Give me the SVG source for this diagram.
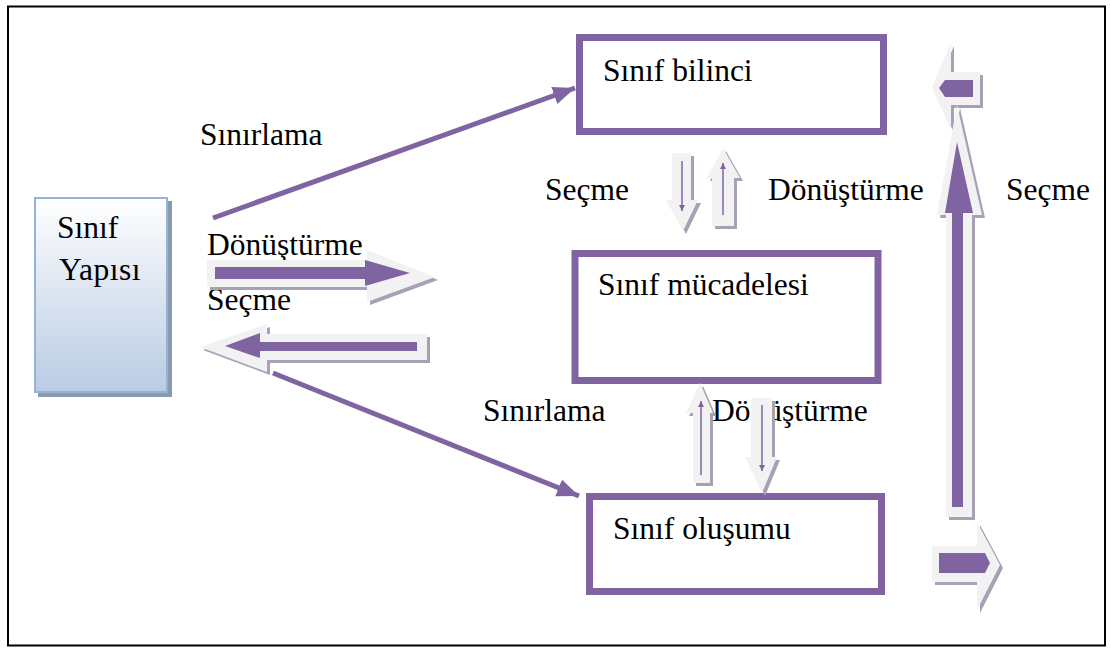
<svg xmlns="http://www.w3.org/2000/svg" width="1111" height="649" viewBox="0 0 1111 649">
<defs>
<linearGradient id="gY" x1="0" y1="0" x2="0" y2="1">
<stop offset="0" stop-color="#ffffff"/>
<stop offset="0.35" stop-color="#e6ecf5"/>
<stop offset="1" stop-color="#b8cce4"/>
</linearGradient>
<marker id="ah" markerUnits="userSpaceOnUse" markerWidth="24" markerHeight="20" refX="22" refY="10" orient="auto">
<path d="M0,1 L22,10 L0,19 Z" fill="#8064a2"/>
</marker>
<marker id="sm" markerUnits="userSpaceOnUse" markerWidth="8" markerHeight="8" refX="6" refY="4" orient="auto">
<path d="M0,1 L6,4 L0,7 Z" fill="#8064a2"/>
</marker>
<style>
.t{font-family:"Liberation Serif","Times New Roman",serif;font-size:31.5px;fill:#000}
.box{fill:#fff;stroke:#8064a2;stroke-width:7}
.ln{stroke:#8064a2;stroke-width:5;fill:none}
.thin{stroke:#8064a2;stroke-width:1.5;fill:none}
.sh{fill:#a7a1b6}
.ol{fill:#f2f2f2}
.pu{fill:#8064a2}
</style>
</defs>
<rect x="0" y="0" width="1111" height="649" fill="#fff"/>
<rect x="8" y="6.5" width="1097" height="639" fill="none" stroke="#000" stroke-width="2"/>

<g id="n-yapisi">
<rect x="38" y="201" width="134" height="196" fill="#8b99ad"/>
<rect x="35" y="198" width="132" height="194" fill="url(#gY)" stroke="#95b3d7" stroke-width="2"/>
<text class="t" x="57" y="238">Sınıf</text>
<text class="t" x="59" y="280" letter-spacing="0.5">Yapısı</text>
</g>

<g id="n-bilinci">
<rect class="box" x="579.5" y="37.5" width="304" height="94"/>
<text class="t" x="603" y="81">Sınıf bilinci</text>
</g>

<g id="n-mucadele">
<rect class="box" x="575" y="253.5" width="303" height="127"/>
<text class="t" x="598" y="295">Sınıf mücadelesi</text>
</g>

<g id="n-olusum">
<rect class="box" x="589.5" y="496.5" width="292" height="95"/>
<text class="t" x="613" y="539">Sınıf oluşumu</text>
</g>

<g id="labels">
<text class="t" x="200" y="145">Sınırlama</text>
<text class="t" x="207" y="255">Dönüştürme</text>
<text class="t" x="207" y="310">Seçme</text>
<text class="t" x="545" y="200">Seçme</text>
<text class="t" x="768" y="200">Dönüştürme</text>
<text class="t" x="1006" y="200">Seçme</text>
<text class="t" x="483" y="421">Sınırlama</text>
<text class="t" x="712" y="421">Dönüştürme</text>
</g>

<g id="connectors">
<line class="ln" x1="213" y1="218" x2="575" y2="88" marker-end="url(#ah)"/>
<line class="ln" x1="273" y1="373" x2="579" y2="496" marker-end="url(#ah)"/>

<!-- right block arrow (Dönüştürme) -->
<g transform="translate(3,3)"><polygon class="sh" points="207,260 367,260 367,250 435,277 367,302 367,287 207,287"/></g>
<polygon class="ol" points="207,260 367,260 367,250 435,277 367,302 367,287 207,287"/>
<polygon class="pu" points="215,267 365,267 365,260 410,273 365,286 365,279 215,279"/>

<!-- left block arrow (Seçme) -->
<g transform="translate(3,3)"><polygon class="sh" points="200,347 267,324 267,334 427,334 427,360 267,360 267,372"/></g>
<polygon class="ol" points="200,347 267,324 267,334 427,334 427,360 267,360 267,372"/>
<polygon class="pu" points="225,346 260,333 260,342 417,342 417,351 260,351 260,358"/>

<!-- small down arrow (top pair) -->
<g transform="translate(3,3)"><polygon class="sh" points="672,153 691,153 691,200 698,200 683,231 666,200 672,200"/></g>
<polygon class="ol" points="672,153 691,153 691,200 698,200 683,231 666,200 672,200"/>
<line class="thin" x1="682" y1="161" x2="682" y2="211" marker-end="url(#sm)"/>

<!-- small up arrow (top pair) -->
<g transform="translate(3,3)"><polygon class="sh" points="723,148 740,178 734,178 734,226 712,226 712,178 707,178"/></g>
<polygon class="ol" points="723,148 740,178 734,178 734,226 712,226 712,178 707,178"/>
<line class="thin" x1="723" y1="215" x2="723" y2="163" marker-end="url(#sm)"/>

<!-- small up arrow (bottom pair) -->
<g transform="translate(3,3)"><polygon class="sh" points="700,383 713,413 710,413 710,483 693,483 693,413 686,413"/></g>
<polygon class="ol" points="700,383 713,413 710,413 710,483 693,483 693,413 686,413"/>
<line class="thin" x1="701" y1="475" x2="701" y2="401" marker-end="url(#sm)"/>

<!-- small down arrow (bottom pair) -->
<g transform="translate(3,3)"><polygon class="sh" points="751,398 772,398 772,457 777,457 762,493 745,457 751,457"/></g>
<polygon class="ol" points="751,398 772,398 772,457 777,457 762,493 745,457 751,457"/>
<line class="thin" x1="762" y1="405" x2="762" y2="471" marker-end="url(#sm)"/>

<!-- small left arrow (top right) -->
<g transform="translate(3,3)"><polygon class="sh" points="932,87 951,43 951,72 980,72 980,105 951,105 951,130"/></g>
<polygon class="ol" points="932,87 951,43 951,72 980,72 980,105 951,105 951,130"/>
<polygon class="pu" points="939,88 945,80 973,80 973,97 945,97"/>

<!-- tall up arrow -->
<g transform="translate(3,3)"><polygon class="sh" points="957,105 982,215 972,215 972,517 946,517 946,215 937,215"/></g>
<polygon class="ol" points="957,105 982,215 972,215 972,517 946,517 946,215 937,215"/>
<polygon class="pu" points="957,142 973,213 963,213 963,507 952,507 952,213 945,213"/>

<!-- small right arrow (bottom right) -->
<g transform="translate(3,3)"><polygon class="sh" points="932,546 977,546 977,522 1000,565 977,610 977,582 932,582"/></g>
<polygon class="ol" points="932,546 977,546 977,522 1000,565 977,610 977,582 932,582"/>
<polygon class="pu" points="939,553 985,553 990,563 985,573 939,573"/>
</g>
</svg>
